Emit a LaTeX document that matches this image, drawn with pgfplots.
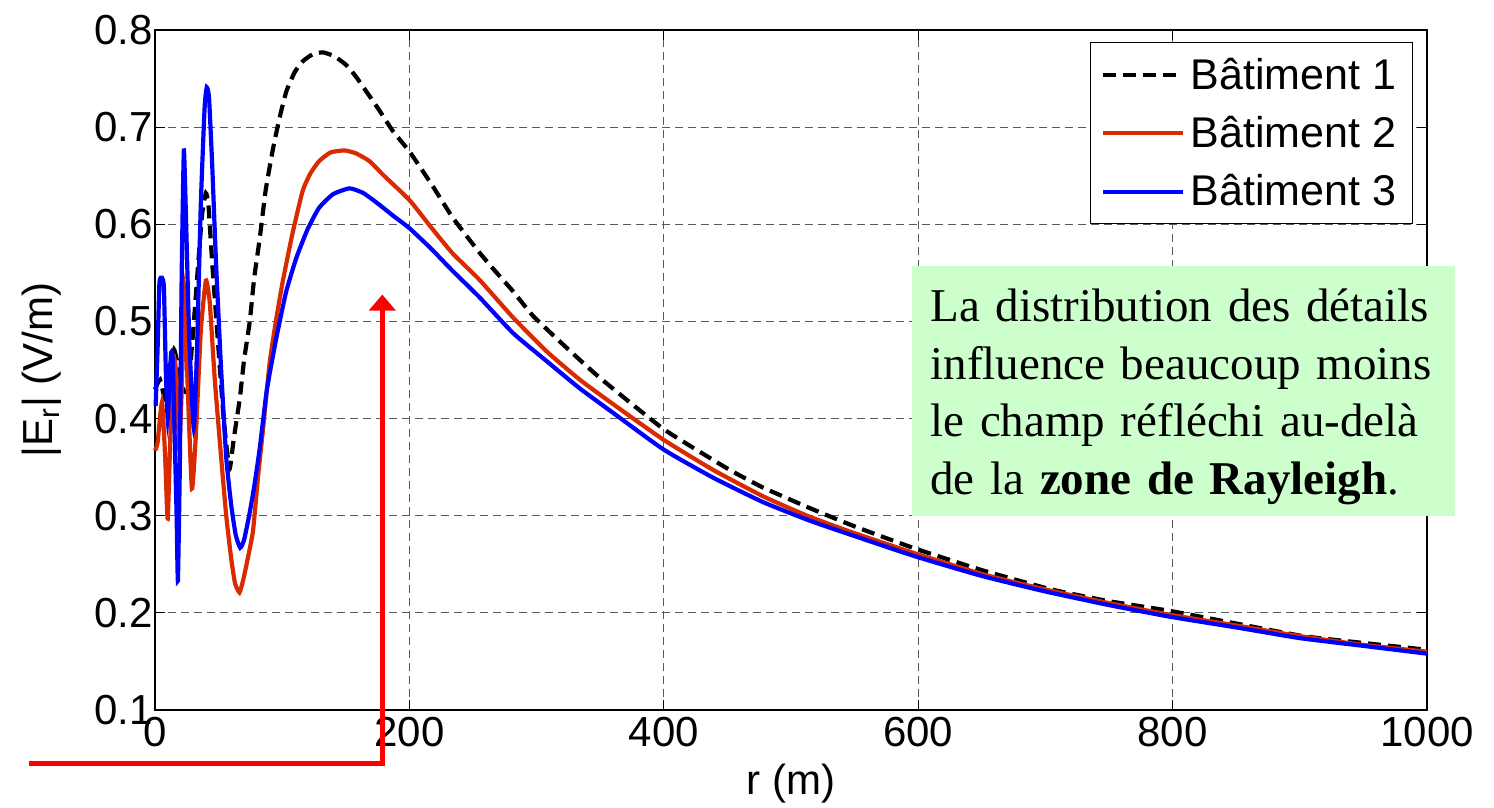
\documentclass[border=0pt]{standalone}
\usepackage{fontspec}
\setmainfont{Liberation Sans}
\newfontfamily\boxfont{Liberation Serif}
\usepackage{pgfplots}
\pgfplotsset{compat=1.18}
\usetikzlibrary{arrows.meta}

\definecolor{bat2}{RGB}{218,42,0}
\definecolor{bat3}{RGB}{0,0,255}
\definecolor{boxgreen}{RGB}{204,255,204}
\definecolor{gridgray}{RGB}{90,90,90}

\newcommand{\bigfont}{\fontsize{21}{25}\selectfont}

\begin{document}
\begin{tikzpicture}
\path[use as bounding box] (-77.5pt,-49pt) rectangle (669.5pt,355pt);
\begin{axis}[
    scale only axis,
    width=636pt, height=340pt,
    xmin=0, xmax=1000, ymin=0.1, ymax=0.8,
    xtick={0,200,400,600,800,1000},
    ytick={0.1,0.2,0.3,0.4,0.5,0.6,0.7,0.8},
    yticklabel style={inner xsep=1pt, /pgf/number format/.cd, fixed, fixed zerofill, precision=1},
    xticklabel style={/pgf/number format/1000 sep={}},
    /pgf/number format/assume math mode=true,
    ticklabel style={font=\bigfont},
    tick align=inside, tick pos=both,
    major tick length=5pt,
    every tick/.style={black, line width=0.5pt},
    axis line style={black, line width=0.8pt},
    grid=major,
    major grid style={gridgray, line width=0.5pt, dash pattern=on 4pt off 2.5pt},
    xlabel={r (m)},
    ylabel={|E\textsubscript{r}| (V/m)},
    xlabel style={font=\bigfont, at={(axis description cs:0.5,0)}, anchor=north, yshift=-27pt, inner sep=0pt},
    ylabel style={font=\bigfont, at={(axis description cs:-0.073,0.5)}, anchor=south, inner sep=0pt},
    legend style={at={(0.989,0.982)}, anchor=north east, draw=black, line width=0.6pt,
        fill=white, font=\fontsize{21.5}{25}\selectfont, inner xsep=5pt, inner ysep=1.5pt,
        nodes={inner xsep=3pt, inner ysep=6pt}},
    legend cell align=left,
    legend image code/.code={\draw[#1] (0pt,0pt) -- (40pt,0pt);},
    every axis plot/.append style={smooth, tension=0.3},
    clip=false,
]

% Batiment 1
\addplot[black, line width=2.1pt, dash pattern=on 6.5pt off 3.5pt] coordinates {
(0,0.43) (4,0.44) (8,0.42) (12,0.455) (15,0.471) (18,0.455) (22,0.43) (26,0.43)
(30,0.49) (34,0.56) (37,0.61) (40,0.632) (42,0.62) (45,0.56) (50,0.47) (54,0.40)
(58.5,0.348) (62,0.38) (66.7,0.421) (70,0.46) (74.5,0.50) (78,0.545) (82.4,0.586)
(87,0.635) (92.8,0.678) (98,0.71) (103.3,0.737) (110,0.757) (116.3,0.768)
(124,0.775) (132,0.777) (141,0.773) (150.3,0.764) (158,0.752) (166,0.737)
(176,0.718) (187,0.696) (200,0.675) (217,0.642) (234,0.607) (255,0.571)
(268,0.551) (281.5,0.531) (297,0.506) (321,0.476) (347,0.445) (373,0.417)
(400,0.389) (425.5,0.368) (452,0.347) (478,0.329) (514.5,0.308) (550,0.289)
(598,0.266) (650,0.244) (705,0.224) (750,0.212) (798,0.202) (850,0.189)
(903,0.176) (950,0.169) (1000,0.162)
};
\addlegendentry{Bâtiment 1}

% Batiment 2
\addplot[bat2, line width=2.1pt] coordinates {
(0,0.367) (2,0.375) (5.5,0.417) (8,0.36) (10,0.297) (12.5,0.40) (15,0.462)
(17,0.44) (19,0.37) (21,0.43) (23,0.535) (25.5,0.44) (29,0.328) (32,0.38)
(36,0.49) (40,0.542) (43,0.52) (47,0.44) (52,0.36) (56,0.30) (60,0.255)
(63,0.23) (66.4,0.221) (69,0.232) (72,0.25) (77,0.284) (81,0.34) (85,0.39)
(90,0.456) (95,0.50) (100.4,0.541) (108,0.59) (116,0.634) (122,0.652)
(129,0.665) (138,0.674) (149,0.676) (158,0.673) (168.6,0.665) (180,0.650)
(200,0.625) (217,0.597) (234,0.570) (255,0.543) (281.5,0.504) (308,0.469)
(334,0.440) (360,0.415) (400,0.378) (439,0.347) (478,0.320) (514.5,0.299)
(550,0.282) (598,0.261) (650,0.240) (700,0.224) (750,0.210) (798,0.198)
(850,0.187) (900,0.176) (950,0.167) (1000,0.160)
};
\addlegendentry{Bâtiment 2}

% Batiment 3
\addplot[bat3, line width=2.1pt] coordinates {
(0.5,0.413) (2,0.47) (3.5,0.54) (5.5,0.545) (7,0.535) (8.5,0.45) (10,0.40)
(11.5,0.44) (12.7,0.468) (14,0.46) (15.5,0.38) (17,0.30) (18,0.233) (19.5,0.35)
(21,0.55) (22.7,0.676) (24.5,0.60) (27,0.48) (30.5,0.39) (33,0.47) (36,0.62)
(39,0.72) (40.7,0.741) (42.5,0.73) (45,0.66) (48,0.56) (52,0.45) (56,0.36)
(60,0.31) (63.5,0.28) (67,0.267) (70,0.275) (74,0.30) (78,0.33) (82.4,0.370)
(88,0.43) (95.4,0.483) (103,0.53) (111,0.565) (120,0.595) (129,0.617)
(140,0.631) (153,0.637) (164,0.632) (176.5,0.620) (188,0.608) (200,0.596)
(217,0.575) (234,0.552) (255,0.525) (281.5,0.488) (308,0.459) (334,0.431)
(360,0.406) (400,0.368) (439,0.339) (478,0.314) (514.5,0.295) (550,0.279)
(598,0.258) (650,0.238) (700,0.222) (750,0.208) (798,0.196) (850,0.185)
(900,0.174) (950,0.166) (1000,0.158)
};
\addlegendentry{Bâtiment 3}

% annotation box
\fill[boxgreen] (axis cs:595,0.557) rectangle (axis cs:1022,0.2997);
\node[anchor=north west, inner sep=0pt, text width=300pt, align=left,
      font=\boxfont\fontsize{23.5}{28.75}\selectfont]
  at (axis cs:609.3,0.5336)
  {La distribution des détails\\
   influence beaucoup moins\\
   le champ réfléchi au-delà\\
   de la \textbf{zone de Rayleigh}.};

% red arrow
\draw[red, line width=2.3pt, -{Triangle[length=8pt,width=13pt]}]
  (axis cs:-98.8,0.0447) -- (axis cs:178.7,0.0447) -- (axis cs:178.7,0.5277);
\end{axis}
\end{tikzpicture}
\end{document}
